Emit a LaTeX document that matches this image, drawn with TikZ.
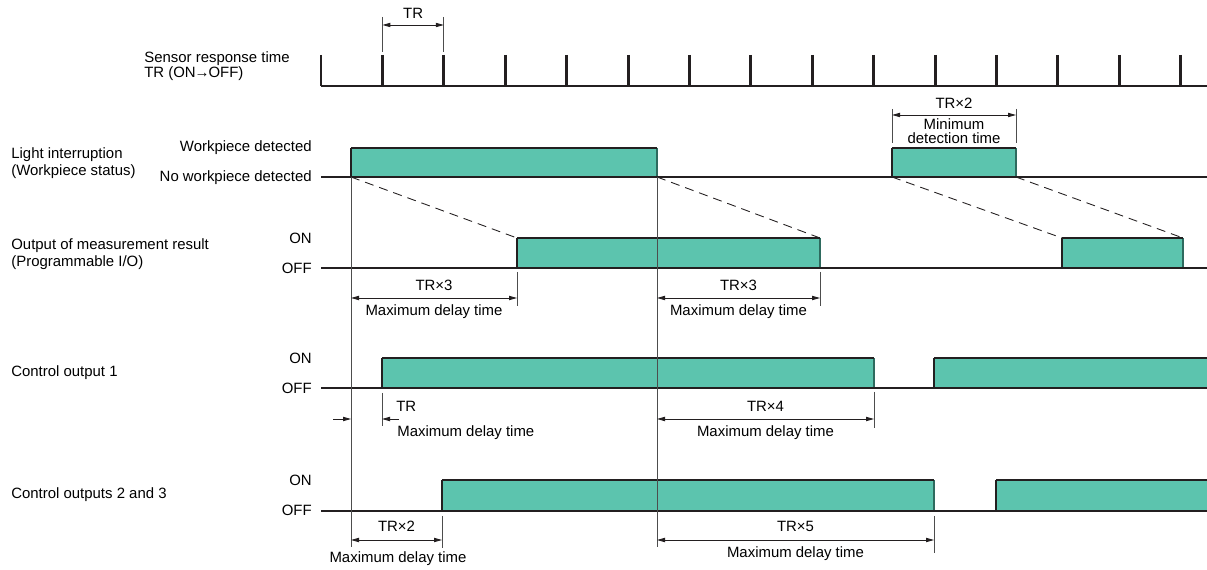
\documentclass[tikz,border=0pt]{standalone}
\usepackage{fontspec}
\setmainfont{Liberation Sans}
\usepackage{tikz}
\usetikzlibrary{arrows.meta,positioning,calc}
\definecolor{pulsegreen}{HTML}{5CC4AE}
\definecolor{pulseedge}{HTML}{2E6A5E}
\definecolor{lineblack}{HTML}{231F20}
\definecolor{guidegray}{HTML}{4D4D4D}

\begin{document}
\begin{tikzpicture}[x=0.02cm, y=-0.02cm, >={Triangle[length=0.16cm, width=0.085cm]},
    font=\fontsize{8.5}{9.7}\selectfont, inner sep=0pt,
    base/.style={draw=lineblack, line width=0.9pt},
    tickmark/.style={draw=lineblack, line width=1.7pt},
    hitop/.style={draw=lineblack, line width=1.7pt},
    riseedge/.style={draw=lineblack, line width=0.6pt},
    falledge/.style={draw=pulseedge, line width=0.6pt},
    guide/.style={draw=guidegray, line width=0.5pt},
    extline/.style={draw=guidegray, line width=0.5pt},
    dimarrow/.style={<->, draw=lineblack, line width=0.5pt},
    delay/.style={draw=lineblack, line width=0.5pt, dash pattern=on 0.18cm off 0.12cm},
    rowlbl/.style={anchor=west, align=left},
    lvllbl/.style={anchor=east}]

\useasboundingbox (0,0) rectangle (1207,570);

%%% ---------- DIMENSIONES ----------
\def\xL{321}    % inicio de las lineas base
\def\xR{1207}   % borde derecho
\def\TR{61.4}   % un periodo TR

% Pulso: nombre, x inicio, x fin, nivel bajo, nivel alto, estilo del flanco de bajada
\def\pulse#1#2#3#4#5#6{
    \coordinate (#1rise) at (#2,#4);
    \coordinate (#1top)  at (#2,#5);
    \coordinate (#1end)  at (#3,#5);
    \coordinate (#1fall) at (#3,#4);
    \fill[pulsegreen] (#1rise) rectangle (#1end);
    \draw[riseedge] (#1rise) -- (#1top);
    \draw[#6] (#1fall) -- (#1end);
    \draw[hitop] (#1top) -- (#1end);
}

% Cota: nombre, x1, x2, y
\def\dimension#1#2#3#4{
    \coordinate (#1L) at (#2,#4);
    \coordinate (#1R) at (#3,#4);
    \draw[dimarrow] (#1L) -- (#1R);
}

%%% ---------- ETIQUETAS ----------
\node[rowlbl, font=\fontsize{8.5}{7.9}\selectfont] (lblsensor) at (144,66)
    {Sensor response time\\TR (ON\kern-0.6pt→\kern-0.6pt OFF)};
\node[rowlbl, font=\fontsize{8.5}{9.6}\selectfont] (lbllight) at (11,163)
    {Light interruption\\(Workpiece status)};
\node[rowlbl, font=\fontsize{8.5}{10}\selectfont] (lblmeas) at (11,254)
    {Output of measurement result\\(Programmable I/O)};
\node[rowlbl] (lblctlA) at (11,373) {Control output 1};
\node[rowlbl] (lblctlB) at (11,495) {Control outputs 2 and 3};

\node[lvllbl] (lighthi) at (312,148) {Workpiece detected};
\node[lvllbl] (lightlo) at (312,178) {No workpiece detected};
\node[lvllbl] (meashi)  at (312,238) {ON};
\node[lvllbl] (measlo)  at (312,268) {OFF};
\node[lvllbl] (ctlAhi)  at (312,358) {ON};
\node[lvllbl] (ctlAlo)  at (312,388) {OFF};
\node[lvllbl] (ctlBhi)  at (312,480) {ON};
\node[lvllbl] (ctlBlo)  at (312,510) {OFF};

%%% ---------- PULSOS ----------
\pulse{lightA}{351}{657}{177}{148}{falledge}
\pulse{lightB}{892}{1016}{177}{148}{falledge}
\pulse{measA}{517}{820}{268}{238}{falledge}
\pulse{measB}{1062}{1183}{268}{238}{falledge}
\pulse{ctlA}{382}{874}{388}{358}{falledge}
\pulse{ctlB}{934}{\xR}{388}{358}{draw=none}
\pulse{ctlC}{442}{934}{511}{480}{falledge}
\pulse{ctlD}{996}{\xR}{511}{480}{draw=none}

% Lineas base
\foreach \y in {86,177,268,388,511}
    \draw[base] (\xL,\y) -- (\xR,\y);

% Reloj del sensor
\foreach \k in {0,...,14}
    \draw[tickmark] ({\xL+\k*\TR},55) -- ({\xL+\k*\TR},86);

% Retardos (lineas discontinuas)
\draw[delay] (lightArise) -- (measAtop);
\draw[delay] (lightAfall) -- (measAend);
\draw[delay] (lightBrise) -- (measBtop);
\draw[delay] (lightBfall) -- (measBend);

% Guias verticales
\coordinate (guideA) at (351,547);
\coordinate (guideB) at (657,547);
\draw[guide] (lightArise) -- (guideA);
\draw[guide] (lightAfall) -- (guideB);

%%% ---------- COTAS ----------
% TR del sensor
\draw[extline] ({\xL+\TR},17) -- ({\xL+\TR},52);
\draw[extline] ({\xL+2*\TR},17) -- ({\xL+2*\TR},52);
\dimension{dimS}{\xL+\TR}{\xL+2*\TR}{25}
\node (txtS) at ($(dimSL)!0.5!(dimSR)+(0,-12)$) {TR};

% Tiempo minimo de deteccion
\draw[extline] (892,109) -- (892,143);
\draw[extline] (1016,109) -- (1016,143);
\dimension{dimL}{892}{1016}{115}
\node (txtL) at ($(dimLL)!0.5!(dimLR)+(0,-12)$) {TR×2};
\node[align=center, font=\fontsize{8.5}{8.3}\selectfont] (minL)
    at ($(dimLL)!0.5!(dimLR)+(0,16)$) {Minimum\\detection time};

% Salida de medicion
\draw[extline] (517,272) -- (517,306);
\draw[extline] (820,272) -- (820,306);
\dimension{dimMA}{351}{517}{298}
\dimension{dimMB}{657}{820}{298}
\node (txtMA) at ($(dimMAL)!0.5!(dimMAR)+(0,-13)$) {TR×3};
\node (maxMA) at ($(dimMAL)!0.5!(dimMAR)+(0,14)$) {Maximum delay time};
\node (txtMB) at ($(dimMBL)!0.5!(dimMBR)+(0,-13)$) {TR×3};
\node (maxMB) at ($(dimMBL)!0.5!(dimMBR)+(0,14)$) {Maximum delay time};

% Salida de control 1
\draw[extline] (382,393) -- (382,426);
\draw[extline] (874,392) -- (874,428);
\coordinate (ctlTRa) at (333,419);
\coordinate (ctlTRb) at (351,419);
\coordinate (ctlTRc) at (399,419);
\coordinate (ctlTRd) at (382,419);
\draw[->, draw=lineblack, line width=0.5pt] (ctlTRa) -- (ctlTRb);
\draw[->, draw=lineblack, line width=0.5pt] (ctlTRc) -- (ctlTRd);
\node[anchor=west] (txtCA) at (396,406) {TR};
\node[anchor=west] (maxCA) at (397,433) {Maximum delay time};
\dimension{dimCB}{657}{874}{419}
\node (txtCB) at ($(dimCBL)!0.5!(dimCBR)+(0,-13)$) {TR×4};
\node (maxCB) at ($(dimCBL)!0.5!(dimCBR)+(0,14)$) {Maximum delay time};

% Salidas de control 2 y 3
\draw[extline] (442,516) -- (442,548);
\draw[extline] (934,516) -- (934,553);
\dimension{dimDA}{351}{442}{540}
\dimension{dimDB}{657}{934}{540}
\node (txtDA) at ($(dimDAL)!0.5!(dimDAR)+(0,-14)$) {TR×2};
\node (maxDA) at (398,559) {Maximum delay time};
\node (txtDB) at ($(dimDBL)!0.5!(dimDBR)+(0,-14)$) {TR×5};
\node (maxDB) at ($(dimDBL)!0.5!(dimDBR)+(0,14)$) {Maximum delay time};

\end{tikzpicture}
\end{document}
